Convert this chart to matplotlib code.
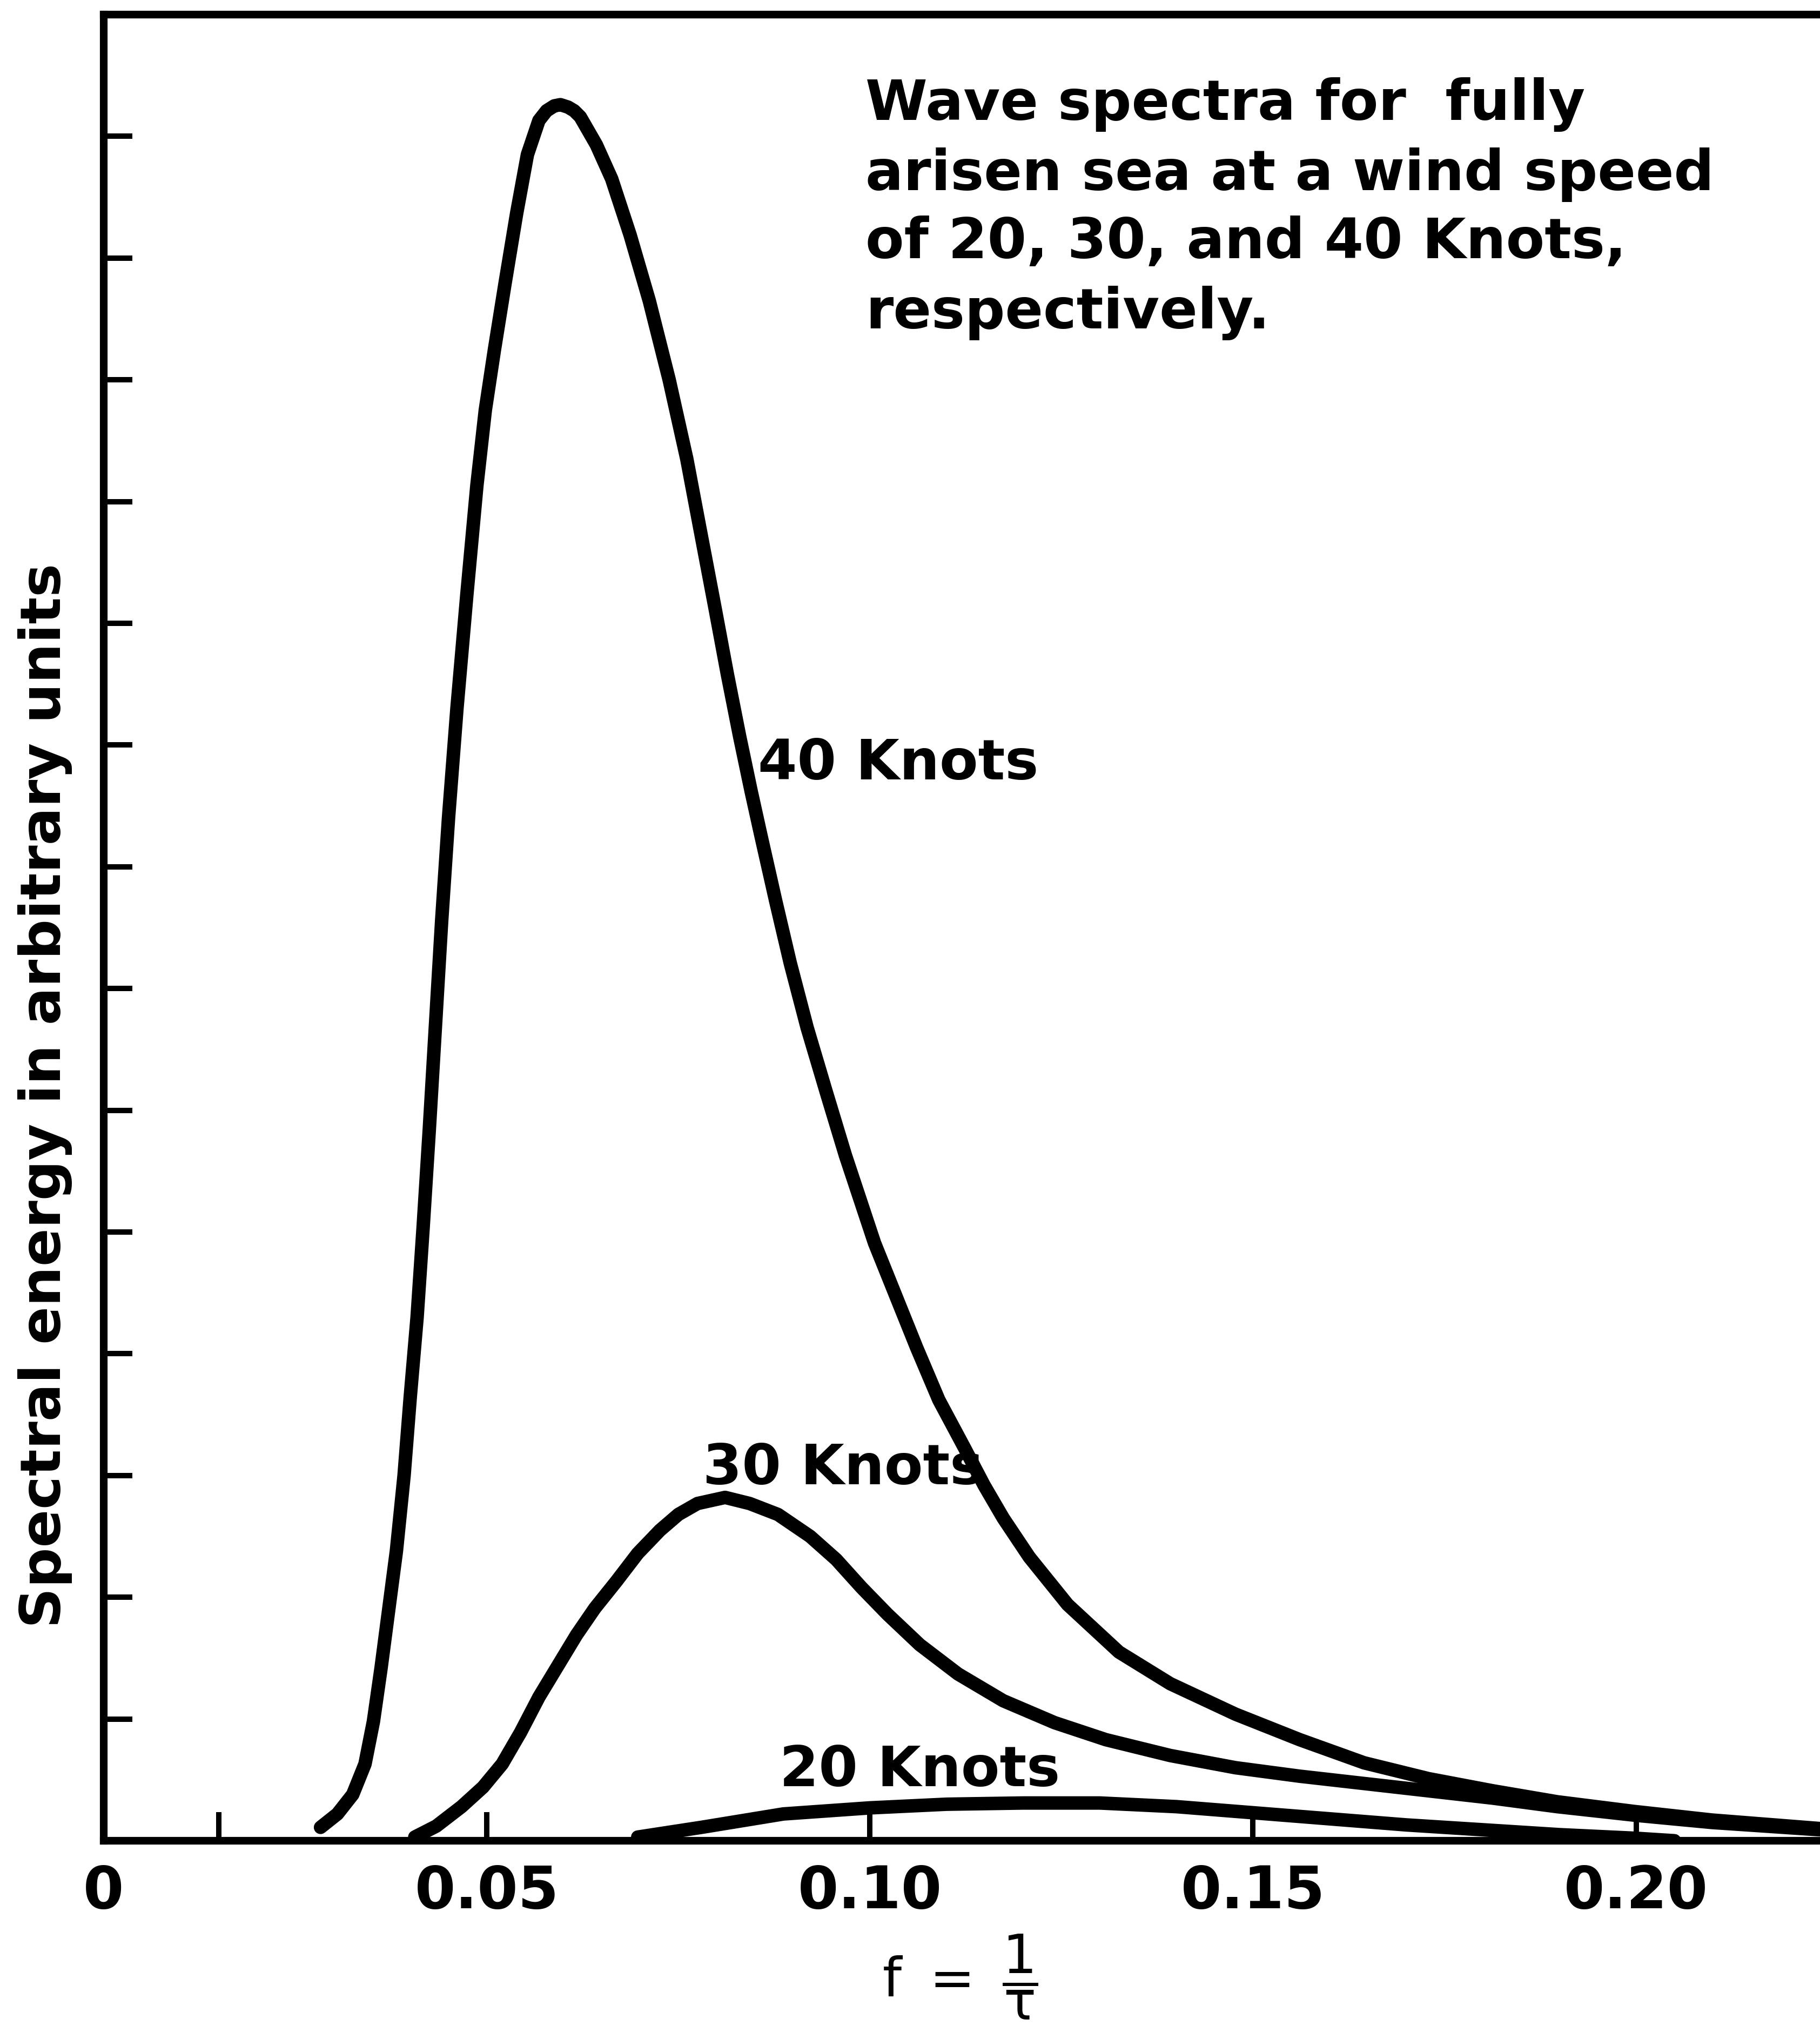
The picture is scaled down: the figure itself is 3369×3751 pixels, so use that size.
import numpy as np
import matplotlib
matplotlib.use('agg')
import matplotlib.pyplot as plt

# wave spectra (f in 1/s, energy in tick units)
f_40 = [0.0283, 0.0305, 0.0325, 0.0341, 0.0352, 0.0362, 0.0372, 0.0382, 0.0392,
        0.0400, 0.0409, 0.0417, 0.0425, 0.0433, 0.0441, 0.0450, 0.0461, 0.0474,
        0.0487, 0.0498, 0.0510, 0.0524, 0.0539, 0.0553, 0.0568, 0.0578, 0.0588,
        0.0596, 0.0606, 0.0614, 0.0622, 0.0643, 0.0663, 0.0687, 0.0712, 0.0738,
        0.0761, 0.0779, 0.0798, 0.0814, 0.0830, 0.0845, 0.0858, 0.0877, 0.0896,
        0.0918, 0.0943, 0.0968, 0.1006, 0.1061, 0.1090, 0.1124, 0.1149, 0.1174,
        0.1208, 0.1258, 0.1325, 0.1392, 0.1477, 0.1561, 0.1645, 0.1729, 0.1813,
        0.1897, 0.1998, 0.2099, 0.2240]
e_40 = [0.11, 0.22, 0.38, 0.63, 0.98, 1.42, 1.90, 2.38, 3.00,
        3.64, 4.30, 5.05, 5.85, 6.70, 7.55, 8.40, 9.30, 10.24,
        11.13, 11.75, 12.25, 12.80, 13.37, 13.85, 14.13, 14.21, 14.25,
        14.26, 14.24, 14.21, 14.16, 13.93, 13.65, 13.19, 12.65, 12.00,
        11.35, 10.75, 10.12, 9.58, 9.07, 8.62, 8.25, 7.72, 7.21,
        6.68, 6.15, 5.63, 4.91, 4.05, 3.62, 3.22, 2.92, 2.65,
        2.33, 1.94, 1.55, 1.29, 1.04, 0.83, 0.64, 0.51, 0.41,
        0.32, 0.24, 0.17, 0.10]

f_30 = [0.0406, 0.0434, 0.0467, 0.0495, 0.0520, 0.0544, 0.0568, 0.0592, 0.0617,
        0.0641, 0.0669, 0.0697, 0.0726, 0.0750, 0.0775, 0.0811, 0.0843, 0.0880,
        0.0922, 0.0956, 0.0989, 0.1023, 0.1065, 0.1115, 0.1174, 0.1241, 0.1308,
        0.1392, 0.1477, 0.1561, 0.1645, 0.1729, 0.1813, 0.1897, 0.1998, 0.2099,
        0.2240]
e_30 = [0.03, 0.12, 0.28, 0.44, 0.63, 0.89, 1.18, 1.43, 1.69,
        1.91, 2.13, 2.36, 2.55, 2.68, 2.77, 2.82, 2.77, 2.68,
        2.50, 2.31, 2.08, 1.86, 1.61, 1.37, 1.15, 0.97, 0.83,
        0.70, 0.60, 0.53, 0.47, 0.41, 0.35, 0.28, 0.21, 0.15,
        0.09]

f_20 = [0.0697, 0.078, 0.0887, 0.100, 0.110, 0.120, 0.125, 0.130, 0.140,
        0.150, 0.160, 0.170, 0.180, 0.190, 0.200, 0.205]
e_20 = [0.03, 0.11, 0.22, 0.27, 0.30, 0.31, 0.31, 0.31, 0.28,
        0.23, 0.18, 0.13, 0.09, 0.05, 0.02, 0.0]

x_ticks = [0, 0.05, 0.10, 0.15, 0.20]
x_ticklabels = ['0', '0.05', '0.10', '0.15', '0.20']
x_minor = [0.015]
y_ticks = list(range(1, 15))

title_lines = ['Wave spectra for  fully',
               'arisen sea at a wind speed',
               'of 20, 30, and 40 Knots,',
               'respectively.']

curve_labels = [('40 Knots', 0.0854, 8.72),
                ('30 Knots', 0.0782, 2.93),
                ('20 Knots', 0.0882, 0.45)]

plt.rcParams['font.family'] = ['DejaVu Sans']
plt.rcParams['mathtext.fontset'] = 'dejavusans'
plt.rcParams['mathtext.default'] = 'regular'

W, H = 3369, 3751
fig = plt.figure(figsize=(W / 300, H / 300), dpi=300)
ax = fig.add_axes([192 / W, 1 - 3408 / H, 1 - 192 / W, (3408 - 27) / H])

lw = 6.0
for fx, ey in [(f_40, e_40), (f_30, e_30), (f_20, e_20)]:
    ax.plot(fx, ey, color='black', linewidth=lw,
            solid_capstyle='round', solid_joinstyle='round')

ax.set_xlim(0, 0.224)
ax.set_ylim(0, 15)

ax.spines['right'].set_visible(False)
for s in ['left', 'top', 'bottom']:
    ax.spines[s].set_linewidth(3.4)

ax.set_xticks(x_ticks)
ax.set_xticklabels(x_ticklabels, fontsize=26, fontweight='bold')
ax.set_xticks(x_minor, minor=True)
ax.set_yticks(y_ticks)
ax.set_yticklabels([])
ax.tick_params(axis='both', which='both', direction='in', length=12.7,
               width=2.4, color='black')
ax.tick_params(axis='x', which='major', pad=10)
ax.tick_params(axis='y', which='both', right=False)
ax.tick_params(axis='x', which='both', top=False)

for txt, fx, ey in curve_labels:
    ax.text(fx, ey, txt, fontsize=25, fontweight='bold',
            ha='left', va='baseline')

baselines = [222, 352, 478, 608]
for line, b in zip(title_lines, baselines):
    fig.text(1602 / W, 1 - b / H, line, fontsize=25, fontweight='bold',
             ha='left', va='baseline')

fig.text(84 / W, 1 - 2028 / H, 'Spectral energy in arbitrary units',
         fontsize=25, fontweight='bold', rotation=90, ha='center', va='center')

fig.text(1777 / W, 1 - 3742 / H, r'$f\ =\ \dfrac{1}{\tau}$',
         fontsize=24, ha='center', va='bottom')

fig.savefig('out.png', dpi=300, facecolor='white')
plt.close(fig)
